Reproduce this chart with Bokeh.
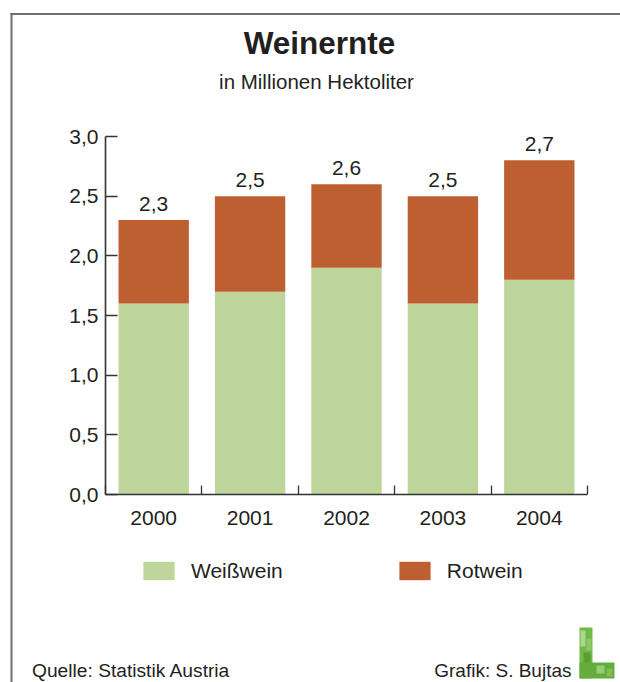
from bokeh.plotting import figure
from bokeh.models import (Range1d, FixedTicker, CustomJSTickFormatter, Label, Legend,
                          LegendItem, BoxAnnotation, ColumnDataSource, LabelSet)
from bokeh.core.properties import value
from bokeh.embed import file_html
from bokeh.resources import INLINE

# ---- data ----
years = ["2000", "2001", "2002", "2003", "2004"]
weisswein = [1.6, 1.7, 1.9, 1.6, 1.8]
rotwein = [0.7, 0.8, 0.7, 0.9, 1.0]
total_labels = ["2,3", "2,5", "2,6", "2,5", "2,7"]
y_ticks = [0.0, 0.5, 1.0, 1.5, 2.0, 2.5, 3.0]

title_text = "Weinernte"
subtitle_text = "in Millionen Hektoliter"
source_text = "Quelle: Statistik Austria"
credit_text = "Grafik: S. Bujtas"
series_names = ["Weißwein", "Rotwein"]

# ---- style ----
GREEN = "#BDD59A"
RED = "#BE5F32"
INK = "#231F20"
AXIS = "#333333"
FRAME = "#6E6E6E"
FONT = "Liberation Sans"

W, H = 620, 682
ORIGIN_X, ORIGIN_Y = 105, 494      # pixel position of (0, 0)
PX_PER_CAT = 96.4                  # pixels per category slot
PX_PER_UNIT = 358 / 3.0            # pixels per million hl

p = figure(frame_width=W, frame_height=H,
           x_range=Range1d(-ORIGIN_X / PX_PER_CAT, (W - ORIGIN_X) / PX_PER_CAT),
           y_range=Range1d(-(H - ORIGIN_Y) / PX_PER_UNIT, ORIGIN_Y / PX_PER_UNIT),
           min_border_left=0, min_border_right=0, min_border_top=0, min_border_bottom=0,
           output_backend="svg", toolbar_location=None,
           background_fill_color="white", border_fill_color="white")
p.outline_line_color = None
p.xgrid.visible = False
p.ygrid.visible = False


def sx(X):
    return X


def sy(Y):
    return H - Y


def box(x0, y0, x1, y1, color):
    p.add_layout(BoxAnnotation(left=sx(x0), right=sx(x1), top=sy(y0), bottom=sy(y1),
                               left_units="screen", right_units="screen",
                               top_units="screen", bottom_units="screen",
                               fill_color=color, fill_alpha=1.0, line_color=None,
                               level="underlay"))


# outer frame lines (top and left)
box(10, 12.5, 620, 14.5, FRAME)
box(10, 12.5, 12, 682, FRAME)

xs = [i + 0.5 for i in range(len(years))]
tops = [a + b for a, b in zip(weisswein, rotwein)]
src = ColumnDataSource(dict(x=xs, w=weisswein, top=tops, lbl=total_labels))

r1 = p.vbar(x="x", bottom=0, top="w", width=0.73, source=src,
            fill_color=GREEN, line_color=None)
r2 = p.vbar(x="x", bottom="w", top="top", width=0.73, source=src,
            fill_color=RED, line_color=None)

p.add_layout(LabelSet(x="x", y="top", text="lbl", source=src, y_offset=9,
                      text_align="center", text_baseline="alphabetic",
                      text_font=value(FONT), text_font_size=value("21px"),
                      text_color=INK))

# x axis
xa = p.xaxis[0]
xa.fixed_location = 0
xa.bounds = (0, len(years))
xa.ticker = FixedTicker(ticks=xs, minor_ticks=list(range(len(years) + 1)))
xa.major_label_overrides = {x: y for x, y in zip(xs, years)}
xa.major_tick_line_color = None
xa.major_tick_in = 0
xa.major_tick_out = 0
xa.minor_tick_in = 9
xa.minor_tick_out = 0
xa.minor_tick_line_color = AXIS
xa.minor_tick_line_width = 1.3
xa.axis_line_color = AXIS
xa.axis_line_width = 1.6
xa.major_label_standoff = 16
xa.major_label_text_font = FONT
xa.major_label_text_font_size = "21px"
xa.major_label_text_color = INK

# y axis
ya = p.yaxis[0]
ya.fixed_location = 0
ya.bounds = (0, 3)
ya.ticker = FixedTicker(ticks=y_ticks)
ya.formatter = CustomJSTickFormatter(code="return tick.toFixed(1).replace('.', ',');")
ya.major_tick_in = 12
ya.major_tick_out = 0
ya.minor_tick_line_color = None
ya.major_tick_line_color = AXIS
ya.major_tick_line_width = 1.3
ya.axis_line_color = AXIS
ya.axis_line_width = 1.6
ya.major_label_standoff = 7
ya.major_label_text_font = FONT
ya.major_label_text_font_size = "21px"
ya.major_label_text_color = INK

# logo
box(579, 627, 592, 678, "#72B845")
box(579, 662, 614, 678, "#64AD3C")
box(580, 630, 585, 646, "#A9D78C")
box(586, 638, 591, 650, "#8CC866")
box(583, 652, 590, 662, "#5A9F36")
box(596, 665, 604, 673, "#96CD74")
box(606, 668, 612, 676, "#7DBF52")

# texts (Label y is corrected by ~0.32 em to land the baseline where wanted)
p.add_layout(Label(x=sx(319), y=sy(52 - 10), x_units="screen", y_units="screen",
                   text=title_text, text_align="center", text_baseline="alphabetic",
                   text_font=FONT, text_font_size="31.5px", text_font_style="bold",
                   text_color=INK))
p.add_layout(Label(x=sx(316), y=sy(87 - 6.5), x_units="screen", y_units="screen",
                   text=subtitle_text, text_align="center", text_baseline="alphabetic",
                   text_font=FONT, text_font_size="20.5px", text_color=INK))
p.add_layout(Label(x=sx(31.5), y=sy(676 - 6), x_units="screen", y_units="screen",
                   text=source_text, text_align="left", text_baseline="alphabetic",
                   text_font=FONT, text_font_size="19.2px", text_color=INK))
p.add_layout(Label(x=sx(571), y=sy(676 - 6), x_units="screen", y_units="screen",
                   text=credit_text, text_align="right", text_baseline="alphabetic",
                   text_font=FONT, text_font_size="19px", text_color=INK))

legend = Legend(items=[LegendItem(label=series_names[0], renderers=[r1]),
                       LegendItem(label=series_names[1], renderers=[r2])],
                location=(139, sy(582.5)), orientation="horizontal",
                glyph_width=39, glyph_height=23, label_standoff=13, spacing=112,
                padding=0, margin=0, border_line_color=None, background_fill_alpha=0,
                label_text_font=FONT, label_text_font_size="21px", label_text_color=INK)
p.add_layout(legend)

open("out.html", "w").write(file_html(p, INLINE))
